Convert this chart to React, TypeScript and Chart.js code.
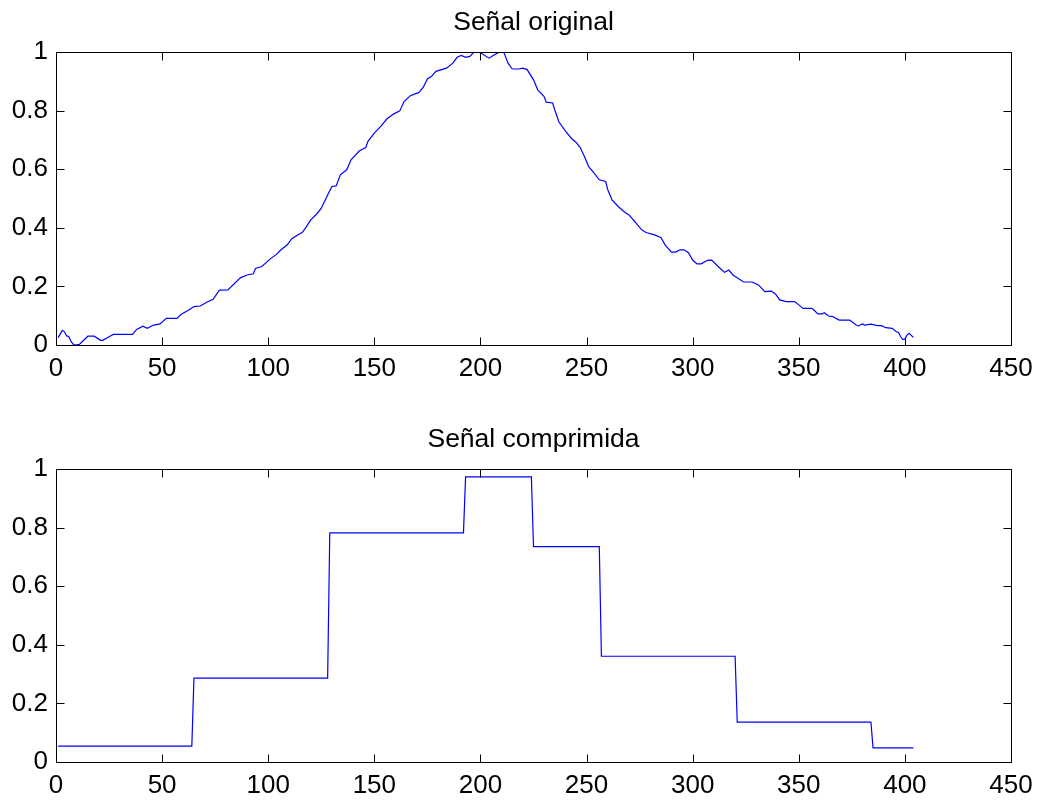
import React, { useEffect, useRef } from "react";
import { Chart, registerables } from "chart.js";

Chart.register(...registerables);

// Señal original (sample index, amplitude)
const origX = [
  1, 3, 4, 5, 6, 7, 8, 9, 11, 15, 18, 21, 22, 25, 27, 36, 38, 41, 43, 46, 49, 52, 57, 59, 62, 65, 68, 71, 74, 77,
  81, 87, 90, 93, 94, 97, 101, 104, 106, 109, 111, 114, 116, 118, 120, 123, 125, 128, 130, 132, 134, 137, 139,
  143, 146, 147, 150, 153, 156, 159, 162, 164, 167, 171, 173, 175, 177, 179, 184, 187, 189, 191, 193, 195, 197,
  199, 201, 204, 206, 209, 211, 213, 215, 218, 220, 222, 225, 227, 230, 231, 234, 235, 237, 240, 243, 245, 247,
  249, 251, 253, 256, 259, 260, 262, 265, 268, 270, 273, 274, 276, 278, 282, 285, 287, 289, 290, 292, 294, 296,
  298, 300, 302, 304, 307, 309, 312, 315, 317, 319, 324, 328, 331, 334, 337, 339, 341, 344, 348, 350, 352, 356,
  357, 359, 361, 362, 364, 366, 369, 374, 377, 378, 380, 381, 384, 387, 389, 391, 394, 396, 397, 398, 399, 400,
  401, 402, 404,
];
const origY = [
  0.025, 0.05, 0.045, 0.031, 0.029, 0.013, 0.003, 0.0, 0.002, 0.03, 0.03, 0.016, 0.016, 0.028, 0.036, 0.036, 0.053,
  0.064, 0.057, 0.068, 0.072, 0.091, 0.091, 0.105, 0.117, 0.131, 0.133, 0.146, 0.156, 0.187,
  0.188, 0.23, 0.239, 0.243, 0.261, 0.268, 0.294, 0.31, 0.325, 0.342, 0.362, 0.376, 0.384, 0.404, 0.427, 0.448,
  0.467, 0.512, 0.541, 0.543, 0.581, 0.598, 0.632,
  0.663, 0.674, 0.695, 0.723, 0.746, 0.772, 0.788, 0.799, 0.831, 0.851, 0.862, 0.879, 0.908, 0.917, 0.934, 0.945,
  0.962, 0.982, 0.988, 0.982, 0.985, 1.0,
  1.0, 0.993, 0.979, 0.988, 1.0, 1.0, 0.962, 0.942, 0.942, 0.945, 0.94, 0.905, 0.871, 0.848, 0.829, 0.826, 0.803,
  0.761, 0.731, 0.704, 0.692, 0.674,
  0.643, 0.609, 0.592, 0.564, 0.558, 0.53, 0.495, 0.472, 0.453, 0.444, 0.419, 0.41, 0.393, 0.384, 0.376, 0.367,
  0.342, 0.325, 0.317, 0.317, 0.325, 0.325,
  0.315, 0.29, 0.277, 0.277, 0.289, 0.29, 0.268, 0.248, 0.256, 0.239, 0.215, 0.215, 0.205, 0.182, 0.184, 0.174,
  0.154, 0.148, 0.148, 0.137, 0.125, 0.125,
  0.12, 0.106, 0.106, 0.11, 0.099, 0.097, 0.085, 0.085, 0.068, 0.065, 0.072, 0.068, 0.071, 0.066, 0.066, 0.059,
  0.057, 0.045, 0.043, 0.028, 0.019, 0.02,
  0.034, 0.04, 0.026,
];

// Señal comprimida (piecewise constant blocks)
const compX = [1, 64, 65, 128, 129, 192, 193, 224, 225, 256, 257, 320, 321, 384, 385, 404];
const compY = [
  0.054, 0.054, 0.286, 0.286, 0.782, 0.782, 0.973, 0.973, 0.735, 0.735, 0.361, 0.361, 0.136, 0.136, 0.048, 0.048,
];

const xMin = 0;
const xMax = 450;
const xStep = 50;
const yMin = 0;
const yMax = 1;
const yStep = 0.2;

const FONT = "'Liberation Sans', Arial, Helvetica, sans-serif";
const TICK_SIZE = 26;
const TITLE_SIZE = 26.5;

const boxPlugin = {
  id: "matlabBox",
  afterDatasetsDraw(chart: any) {
    const { ctx, chartArea: a, scales } = chart;
    const tl = 8;
    ctx.save();
    ctx.strokeStyle = "#000";
    ctx.lineWidth = 1;
    ctx.beginPath();
    const L = Math.round(a.left) + 0.5;
    const R = Math.round(a.right) + 0.5;
    const T = Math.round(a.top) + 0.5;
    const B = Math.round(a.bottom) + 0.5;
    ctx.rect(L, T, R - L, B - T);
    scales.x.ticks.forEach((t: any) => {
      const px = Math.round(scales.x.getPixelForValue(t.value)) + 0.5;
      ctx.moveTo(px, B);
      ctx.lineTo(px, B - tl);
      ctx.moveTo(px, T);
      ctx.lineTo(px, T + tl);
    });
    scales.y.ticks.forEach((t: any) => {
      const py = Math.round(scales.y.getPixelForValue(t.value)) + 0.5;
      ctx.moveTo(L, py);
      ctx.lineTo(L + tl, py);
      ctx.moveTo(R, py);
      ctx.lineTo(R - tl, py);
    });
    ctx.stroke();
    // title centred over the axes box
    const title = chart.options.plugins.matlabBox?.title;
    if (title) {
      ctx.fillStyle = "#000";
      ctx.font = `${TITLE_SIZE}px ${FONT}`;
      ctx.textAlign = "center";
      ctx.textBaseline = "middle";
      ctx.fillText(title, (a.left + a.right) / 2, 23);
    }
    ctx.restore();
  },
};

function Plot(props: { title: string; xs: number[]; ys: number[]; top: number; height: number; xAxisH: number }) {
  const ref = useRef<HTMLCanvasElement>(null);
  useEffect(() => {
    const pts = props.xs.map((x, i) => ({ x, y: props.ys[i] }));
    const chart = new Chart(ref.current as HTMLCanvasElement, {
      type: "scatter",
      data: {
        datasets: [
          {
            data: pts,
            showLine: true,
            borderColor: "#0000ff",
            backgroundColor: "#0000ff",
            borderWidth: 1.2,
            pointRadius: 0,
            pointHoverRadius: 0,
            tension: 0,
          },
        ],
      },
      options: {
        responsive: false,
        animation: false,
        events: [],
        layout: { padding: { left: 0, right: 32, top: 52, bottom: 0 } },
        plugins: {
          legend: { display: false },
          tooltip: { enabled: false },
          title: { display: false },
          matlabBox: { title: props.title },
        } as any,
        scales: {
          x: {
            type: "linear",
            min: xMin,
            max: xMax,
            grid: { display: false, drawTicks: false },
            border: { display: false },
            ticks: {
              stepSize: xStep,
              color: "#000",
              font: { family: FONT, size: TICK_SIZE, lineHeight: 1.2 },
              padding: 8,
              maxRotation: 0,
              autoSkip: false,
            },
            afterFit: (s: any) => {
              s.height = props.xAxisH;
            },
          },
          y: {
            type: "linear",
            min: yMin,
            max: yMax,
            grid: { display: false, drawTicks: false },
            border: { display: false },
            ticks: {
              stepSize: yStep,
              color: "#000",
              font: { family: FONT, size: TICK_SIZE, lineHeight: 1.2 },
              padding: 8,
              callback: (v: any) => String(Number(Number(v).toFixed(1))),
            },
            afterFit: (s: any) => {
              s.width = 56;
            },
          },
        },
      },
      plugins: [boxPlugin],
    });
    return () => chart.destroy();
  }, []);
  return (
    <div style={{ position: "absolute", left: 0, top: props.top, width: 1043, height: props.height }}>
      <canvas ref={ref} width={1043} height={props.height} style={{ display: "block" }} />
    </div>
  );
}

export default function App() {
  return (
    <div style={{ position: "absolute", left: 0, top: 0, width: 1043, height: 803, background: "#fff" }}>
      <Plot title="Señal original" xs={origX} ys={origY} top={0} height={417} xAxisH={72} />
      <Plot title="Señal comprimida" xs={compX} ys={compY} top={417} height={386} xAxisH={41} />
    </div>
  );
}
